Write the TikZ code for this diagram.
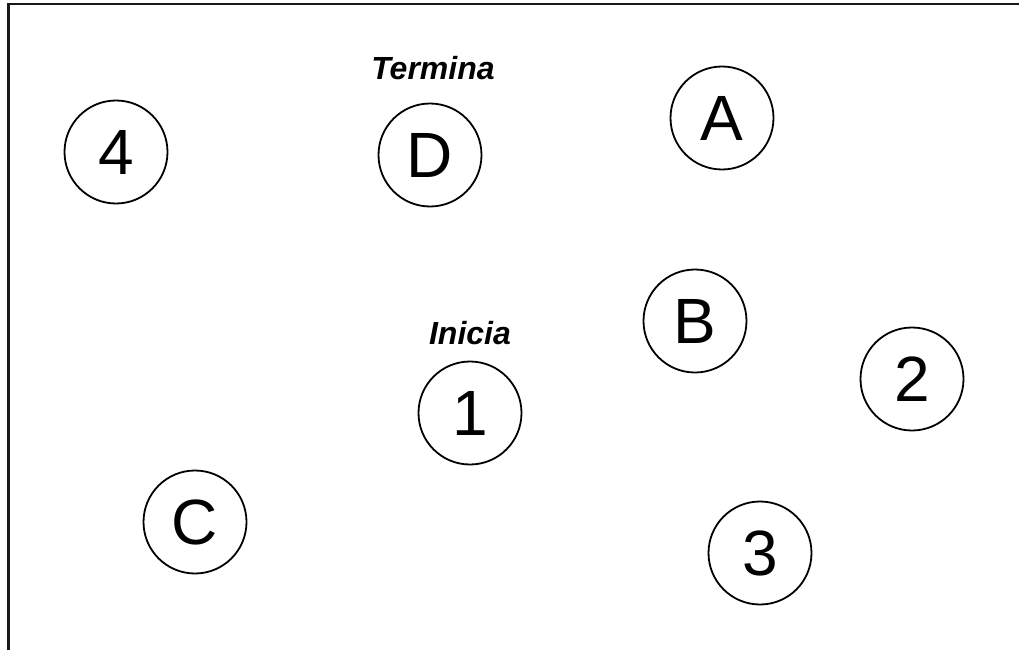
\documentclass[tikz,border=0pt]{standalone}
\usepackage{fontspec}
\setmainfont{Liberation Sans}
\begin{document}
\begin{tikzpicture}[x=1pt,y=-1pt,
  station/.style={draw=black,line width=1.8pt,circle,minimum size=103pt,inner sep=0pt,font=\fontsize{64}{64}\selectfont},
  tag/.style={font=\fontsize{32}{32}\selectfont\bfseries\itshape}]
\useasboundingbox (0,0) rectangle (1019,650);
\draw[line width=2.6pt,color=black!90] (8.5,650) -- (8.5,4) -- (1019,4);
\node[station] (n4) at (116,152) {4};
\node[station] (nD) at (430,155) {D};
\node[station] (nA) at (722,118) {A};
\node[station] (nB) at (695,321) {B};
\node[station] (n2) at (912,379) {2};
\node[station] (n1) at (470,413) {1};
\node[station] (nC) at (195,522) {C};
\node[station] (n3) at (760,553) {3};
\node[tag] (termina) at (433,68) {Termina};
\node[tag] (inicia) at (470,333) {Inicia};
\end{tikzpicture}
\end{document}
